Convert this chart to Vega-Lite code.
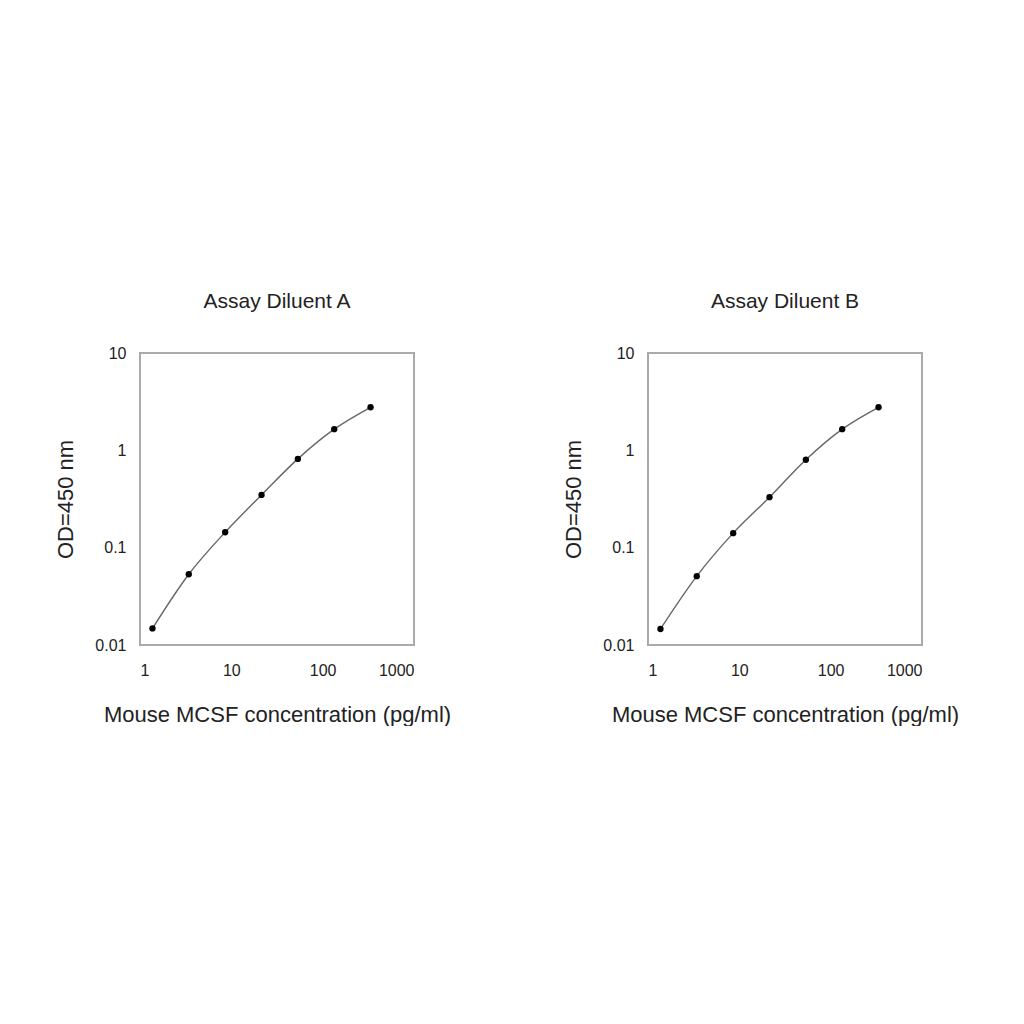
{
  "$schema": "https://vega.github.io/schema/vega-lite/v6.json",
  "background": "white",
  "padding": {"left": 53, "top": 290, "right": 0, "bottom": 0},
  "datasets": {
    "curve": [
      {"panel": "A", "conc": 1.37, "od": 0.0148},
      {"panel": "A", "conc": 3.42, "od": 0.0533},
      {"panel": "A", "conc": 8.56, "od": 0.144},
      {"panel": "A", "conc": 21.4, "od": 0.348},
      {"panel": "A", "conc": 53.5, "od": 0.817},
      {"panel": "A", "conc": 133.8, "od": 1.65},
      {"panel": "A", "conc": 334.4, "od": 2.77},
      {"panel": "B", "conc": 1.37, "od": 0.0146},
      {"panel": "B", "conc": 3.42, "od": 0.051},
      {"panel": "B", "conc": 8.56, "od": 0.141},
      {"panel": "B", "conc": 21.4, "od": 0.33},
      {"panel": "B", "conc": 53.5, "od": 0.80},
      {"panel": "B", "conc": 133.8, "od": 1.65},
      {"panel": "B", "conc": 334.4, "od": 2.77}
    ]
  },
  "hconcat": [
    {
      "title": "Assay Diluent A",
      "width": 274,
      "height": 292,
      "data": {"name": "curve"},
      "transform": [{"filter": "datum.panel === 'A'"}],
      "encoding": {
        "x": {"field": "conc", "type": "quantitative", "title": "Mouse MCSF concentration (pg/ml)",
              "scale": {"type": "log", "domain": [1, 1000], "nice": false},
              "axis": {"values": [1, 10, 100, 1000], "format": "~g"}},
        "y": {"field": "od", "type": "quantitative", "title": "OD=450 nm",
              "scale": {"type": "log", "domain": [0.01, 10], "nice": false},
              "axis": {"values": [0.01, 0.1, 1, 10], "format": "~g"}}
      },
      "layer": [
        {"mark": {"type": "line", "interpolate": "monotone", "color": "#666", "strokeWidth": 1.4}},
        {"mark": {"type": "point", "filled": true, "color": "black", "opacity": 1, "size": 40}}
      ]
    },
    {
      "title": "Assay Diluent B",
      "width": 274,
      "height": 292,
      "data": {"name": "curve"},
      "transform": [{"filter": "datum.panel === 'B'"}],
      "encoding": {
        "x": {"field": "conc", "type": "quantitative", "title": "Mouse MCSF concentration (pg/ml)",
              "scale": {"type": "log", "domain": [1, 1000], "nice": false},
              "axis": {"values": [1, 10, 100, 1000], "format": "~g"}},
        "y": {"field": "od", "type": "quantitative", "title": "OD=450 nm",
              "scale": {"type": "log", "domain": [0.01, 10], "nice": false},
              "axis": {"values": [0.01, 0.1, 1, 10], "format": "~g"}}
      },
      "layer": [
        {"mark": {"type": "line", "interpolate": "monotone", "color": "#666", "strokeWidth": 1.4}},
        {"mark": {"type": "point", "filled": true, "color": "black", "opacity": 1, "size": 40}}
      ]
    }
  ],
  "spacing": 109,
  "config": {
    "font": "Liberation Sans",
    "view": {"stroke": "#aaa", "strokeWidth": 2},
    "title": {"fontSize": 21, "fontWeight": "normal", "color": "#222", "offset": 33},
    "axis": {
      "domain": false,
      "ticks": false,
      "grid": false,
      "labelFontSize": 16,
      "labelColor": "#222",
      "titleFontSize": 22,
      "titleFontWeight": "normal",
      "titleColor": "#222"
    },
    "axisX": {"labelPadding": 17, "titlePadding": 26},
    "axisY": {"labelPadding": 14, "titlePadding": 17}
  }
}
